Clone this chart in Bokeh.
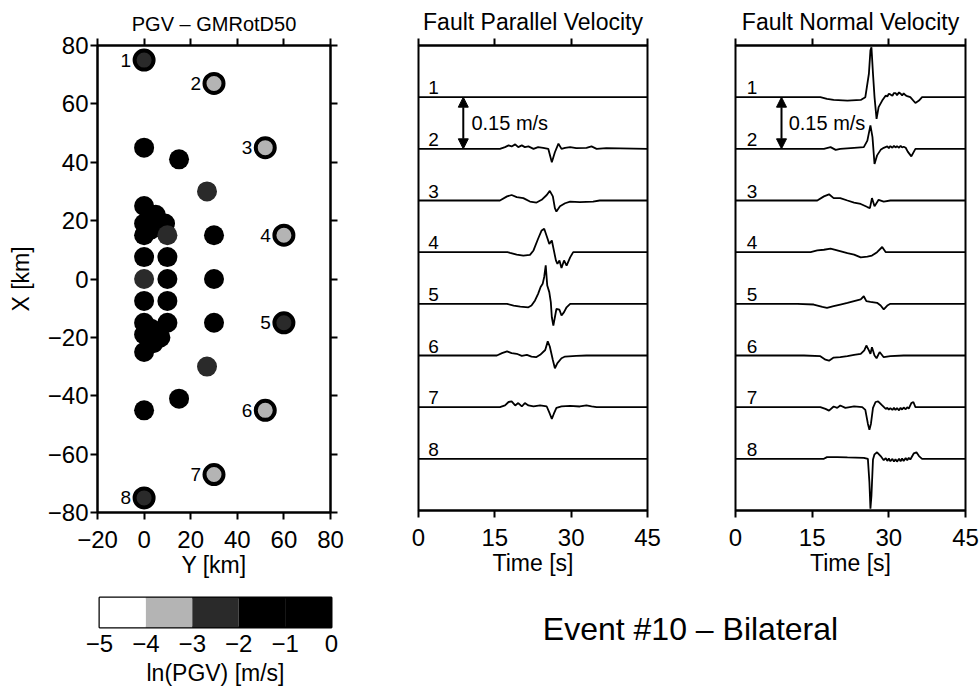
from bokeh.plotting import figure
from bokeh.models import (LinearAxis, FixedTicker, Range1d, Arrow, NormalHead,
                          ColumnDataSource, LinearColorMapper)
from bokeh.layouts import row, column
from bokeh.embed import file_html
from bokeh.resources import INLINE
from bokeh.core.properties import value
from bokeh.transform import transform

FONT = "Liberation Sans"

# ---------------- station map (Y [km], X [km], ln(PGV)) ----------------
station_num = ["1", "2", "3", "4", "5", "6", "7", "8"]
station_y = [0, 30, 52, 60, 60, 52, 30, 0]
station_x = [75, 67, 45, 15, -15, -45, -67, -75]
station_lnpgv = [-2.6, -3.4, -3.5, -3.5, -2.5, -3.4, -3.3, -2.6]

grid_y = [0, 15, 27, 30, 0, 5, 9, 0, 0, 3, 10, 0, 10, 30, 0, 10,
          0, 10, 0, 0, 3, 10, 30, 7, 0, 4, 27, 15, 0]
grid_x = [45, 41, 30, 15, 25, 22, 19, 19, 15, 17, 15, 7.5, 7.5, 0, 0, 0,
          -7.5, -7.5, -15, -19, -17, -15, -15, -20, -25, -22, -30, -41, -45]
grid_lnpgv = [-1.5, -1.4, -2.4, -1.6, -1.3, -1.2, -1.2, -1.0, -1.0, -1.1, -2.3, -1.1, -1.3,
              -1.7, -2.2, -1.4, -1.1, -1.3, -1.0, -1.0, -1.1, -1.5, -1.7, -1.3, -1.2, -1.2,
              -2.4, -1.4, -1.5]

map_xticks = [-20, 0, 20, 40, 60, 80]
map_xlabels = ["−20", "0", "20", "40", "60", "80"]
map_yticks = [-80, -60, -40, -20, 0, 20, 40, 60, 80]
map_ylabels = ["−80", "−60", "−40", "−20", "0", "20", "40", "60", "80"]

cbar_edges = [-5, -4, -3, -2, -1, 0]
cbar_palette = ["#ffffff", "#b4b4b4", "#2a2a2a", "#000000", "#000000"]
cbar_labels = ["−5", "−4", "−3", "−2", "−1", "0"]

# ---------------- waveforms: time [s], velocity [m/s] ----------------
time_ticks = [0, 15, 30, 45]
time_labels = ["0", "15", "30", "45"]
trace_spacing = 0.15
trace_names = ["1", "2", "3", "4", "5", "6", "7", "8"]

# Fault parallel
FP_T1 = []
FP_V1 = []
FP_T2 = [16.0, 17.0, 17.7, 18.3, 19.0, 19.6, 20.3, 20.9, 21.6, 22.6, 23.5, 24.5, 25.5,
         26.2, 26.8, 27.5, 28.1, 28.8, 29.8, 31.0, 33.0, 34.0, 35.0, 36.9]
FP_V2 = [0, .005, .010, .007, .013, .005, .010, .005, .007, 0, .005, .003, 0,
         -.039, -.010, .015, 0, .003, .005, .002, .003, .007, 0, .002]
FP_T3 = [16.0, 17.4, 18.3, 19.3, 20.6, 21.9, 23.2, 24.2, 25.2, 25.8, 26.4, 26.8, 27.1,
         27.8, 28.8, 29.8, 31.7, 34.3, 35.6]
FP_V3 = [0, .012, .016, .010, .007, -.003, -.006, .002, .016, .028, .012, -.022, -.032,
         -.017, -.008, -.003, -.005, -.003, 0]
FP_T4 = [17.5, 18.0, 19.3, 20.6, 21.9, 22.6, 23.5, 24.2, 24.7, 25.2, 25.7, 26.2, 26.6,
         27.0, 27.3, 27.7, 28.1, 28.6, 29.1, 29.8, 30.4]
FP_V4 = [0, -.002, -.007, -.010, -.008, .005, .039, .063, .068, .046, .024, .034, .005,
         -.024, -.034, -.024, -.046, -.024, -.039, -.015, 0]
FP_T5 = [17.4, 18.7, 20.0, 21.6, 22.2, 22.9, 23.5, 24.0, 24.4, 24.7, 25.0, 25.3, 25.7,
         26.0, 26.2, 26.5, 26.8, 27.1, 27.7, 28.1, 28.6, 29.1, 29.8]
FP_V5 = [0, -.005, -.008, -.010, -.005, .010, .029, .049, .058, .078, .112, .053, .034,
         .005, -.039, -.063, -.039, -.015, -.017, -.034, -.024, -.010, 0]
FP_T6 = [15.4, 16.4, 17.4, 18.3, 19.3, 20.3, 21.3, 22.2, 23.1, 23.9, 24.9, 25.4, 25.8,
         26.4, 26.8, 27.3, 28.1, 28.8, 31.0, 33.0]
FP_V6 = [0, .007, .012, .007, .005, -.001, .002, -.003, -.005, .002, .016, .041, .026,
         -.013, -.037, -.022, -.008, -.003, -.001, 0]
FP_T7 = [16.0, 17.0, 17.7, 18.3, 19.0, 19.6, 20.3, 20.9, 21.6, 22.6, 23.9, 25.2, 25.8,
         26.2, 26.6, 27.1, 28.1, 29.8, 31.7, 33.0, 34.0, 35.0]
FP_V7 = [0, .005, .015, .017, .005, .012, .002, .012, .005, .002, .005, .002, -.019,
         -.034, -.019, -.002, .002, .004, .002, .005, .002, 0]
FP_T8 = []
FP_V8 = []

# Fault normal
FN_T1 = [16.6, 17.9, 19.2, 21.9, 24.5, 25.4, 26.1, 26.4, 26.6, 26.9, 27.2, 27.6, 28.0,
         28.7, 29.4, 29.7, 30.0, 30.3, 30.7, 31.0, 31.3, 31.6, 32.0, 32.3, 32.6, 32.9,
         33.3, 33.6, 34.2, 35.2, 35.9, 36.5]
FN_V1 = [0, -.005, -.008, -.010, -.008, 0, .068, .136, .145, .068, 0, -.063, -.029,
         -.010, .005, .002, .010, .008, .004, .012, .012, .006, .014, .010, .005, .011,
         .005, .003, 0, -.017, -.010, 0]
FN_T2 = [17.3, 18.6, 19.6, 20.5, 23.2, 25.1, 25.8, 26.4, 26.8, 27.2, 27.7, 28.4, 29.0,
         29.7, 30.0, 30.3, 30.7, 31.0, 31.3, 31.6, 32.0, 32.3, 32.6, 32.9, 33.3, 33.7,
         34.4, 35.2]
FN_V2 = [0, .005, -.003, 0, .003, .005, .024, .068, .034, -.044, -.019, -.003, .003,
         .007, .002, .008, .003, .009, .004, .008, .003, .009, .004, .006, .003, -.008,
         -.022, 0]
FN_T3 = [16.0, 17.3, 18.3, 19.2, 20.5, 21.9, 23.2, 24.5, 25.8, 26.3, 26.7, 27.2, 28.0,
         29.0, 30.3]
FN_V3 = [0, .012, .018, .007, .007, 0, -.006, -.010, -.019, -.022, .007, -.017, .002,
         -.003, 0]
FN_T4 = [14.7, 16.0, 17.3, 18.6, 19.9, 21.9, 23.2, 24.5, 25.8, 26.7, 27.7, 28.7, 29.4,
         31.0]
FN_V4 = [0, .005, .007, .010, .005, -.003, -.007, -.015, -.013, -.010, 0, .015, 0, 0]
FN_T5 = [12.1, 15.3, 17.0, 17.9, 19.2, 20.5, 21.9, 23.2, 24.5, 25.1, 25.6, 26.4, 27.7,
         28.4, 29.0, 29.7, 30.3]
FN_V5 = [0, -.002, -.009, -.012, -.007, -.002, .003, .008, .013, .022, .008, .006, .003,
         -.005, -.016, -.005, 0]
FN_T6 = [13.4, 16.6, 17.6, 18.3, 19.2, 20.5, 21.9, 23.2, 24.5, 25.2, 25.6, 26.1, 26.4,
         26.7, 27.2, 27.6, 28.2, 29.0, 30.3, 32.9]
FN_V6 = [0, -.002, -.012, -.015, -.006, -.005, -.002, .002, .005, .015, .029, .015, .005,
         .024, 0, -.008, .010, -.005, -.002, 0]
FN_T7 = [16.6, 17.6, 18.3, 19.2, 19.9, 20.5, 21.5, 23.2, 24.8, 25.4, 25.9, 26.2, 26.5,
         26.9, 27.4, 27.9, 28.7, 29.4, 29.7, 30.0, 30.3, 30.7, 31.0, 31.3, 31.6, 32.0,
         32.3, 32.6, 32.9, 33.3, 33.6, 33.9, 34.4, 34.8, 35.2]
FN_V7 = [0, -.005, -.010, .002, -.002, .005, -.002, .002, 0, -.008, -.048, -.066, -.048,
         -.002, .015, .017, .005, -.005, -.002, -.007, -.003, -.008, -.002, -.008, -.003,
         -.009, -.002, -.007, -.001, -.006, 0, -.004, .012, .015, 0]
FN_T8 = [17.3, 17.9, 19.9, 21.9, 25.1, 25.9, 26.2, 26.4, 26.6, 26.9, 27.2, 27.7, 28.4,
         29.0, 29.4, 29.7, 30.0, 30.3, 30.7, 31.0, 31.3, 31.6, 32.0, 32.3, 32.6, 32.9,
         33.3, 33.6, 33.9, 34.2, 34.9, 35.4, 35.9, 36.5]
FN_V8 = [0, .005, .005, .004, .003, 0, -.068, -.145, -.107, -.002, .013, .019, .008,
         -.004, .002, -.006, .001, -.007, 0, -.008, -.001, -.008, 0, -.007, .001, -.006,
         .002, -.004, .003, -.002, .016, .019, .008, 0]

FP = [(FP_T1, FP_V1), (FP_T2, FP_V2), (FP_T3, FP_V3), (FP_T4, FP_V4),
      (FP_T5, FP_V5), (FP_T6, FP_V6), (FP_T7, FP_V7), (FP_T8, FP_V8)]
FN = [(FN_T1, FN_V1), (FN_T2, FN_V2), (FN_T3, FN_V3), (FN_T4, FN_V4),
      (FN_T5, FN_V5), (FN_T6, FN_V6), (FN_T7, FN_V7), (FN_T8, FN_V8)]

TICK_FS = "24px"
LABEL_FS = "23px"


def style_axis(ax, show_labels=True, label_standoff=3):
    ax.axis_line_width = 2
    ax.axis_line_color = "black"
    ax.major_tick_line_width = 2
    ax.major_tick_line_color = "black"
    ax.major_tick_out = 7
    ax.major_tick_in = 0
    ax.minor_tick_out = 0
    ax.minor_tick_in = 0
    ax.major_label_text_font = FONT
    ax.axis_label_text_font = FONT
    ax.axis_label_text_font_style = "normal"
    ax.axis_label_text_font_size = LABEL_FS
    ax.axis_label_text_color = "black"
    if show_labels:
        ax.major_label_text_color = "black"
        ax.major_label_text_font_size = TICK_FS
        ax.major_label_standoff = label_standoff
    else:
        ax.major_label_text_color = None
        ax.major_label_text_font_size = "1px"
        ax.major_label_standoff = 0


def add_axis(p, loc, ticks, labels=None, axis_label=None, label_standoff=3,
             axis_label_standoff=2):
    ax = LinearAxis(ticker=FixedTicker(ticks=ticks))
    style_axis(ax, show_labels=labels is not None, label_standoff=label_standoff)
    if labels is not None:
        ax.major_label_overrides = {t: l for t, l in zip(ticks, labels)}
    if axis_label:
        ax.axis_label = axis_label
        ax.axis_label_standoff = axis_label_standoff
    p.add_layout(ax, loc)
    return ax


def style_title(p, text, size="23px"):
    p.title.text = text
    p.title.align = "center"
    p.title.text_font = FONT
    p.title.text_font_size = size
    p.title.text_font_style = "normal"
    p.title.text_color = "black"
    p.title.standoff = 7
    p.title.offset = 0


# ---------------- map figure ----------------
pm = figure(frame_width=233, frame_height=467,
            x_range=Range1d(-20, 80), y_range=Range1d(-80, 80),
            x_axis_location=None, y_axis_location=None,
            min_border_left=97, min_border_right=30,
            min_border_top=45, min_border_bottom=68,
            output_backend="svg", toolbar_location=None)
style_title(pm, "PGV – GMRotD50", size="20px")
pm.grid.grid_line_color = None
pm.outline_line_color = "black"
pm.outline_line_width = 2
add_axis(pm, "below", map_xticks, map_xlabels, "Y [km]", label_standoff=11, axis_label_standoff=1)
add_axis(pm, "left", map_yticks, map_ylabels, "X [km]", label_standoff=2, axis_label_standoff=11)
add_axis(pm, "above", map_xticks)
add_axis(pm, "right", map_yticks)

mapper = LinearColorMapper(palette=cbar_palette, low=cbar_edges[0], high=cbar_edges[-1])
grid_src = ColumnDataSource(dict(y=grid_y, x=grid_x, v=grid_lnpgv))
pm.scatter("y", "x", source=grid_src, size=20, marker="circle",
           fill_color=transform("v", mapper), line_color=None)
st_src = ColumnDataSource(dict(y=station_y, x=station_x, v=station_lnpgv, n=station_num))
pm.scatter("y", "x", source=st_src, size=19, marker="circle",
           fill_color=transform("v", mapper), line_color="black", line_width=4)
pm.text("y", "x", text="n", source=st_src, x_offset=-13, text_align="right",
        text_baseline="middle", text_font=value(FONT), text_font_size="19px",
        text_color="black")


# ---------------- waveform figures ----------------
def wave_fig(title, traces, arrow_t, label_t, name_t, min_left, min_right, fw):
    p = figure(frame_width=fw, frame_height=465,
               x_range=Range1d(time_ticks[0], time_ticks[-1]),
               y_range=Range1d(-trace_spacing * (len(traces) + 1), 0),
               x_axis_location=None, y_axis_location=None,
               min_border_left=min_left, min_border_right=min_right,
               min_border_top=45, min_border_bottom=70,
               output_backend="svg", toolbar_location=None)
    style_title(p, title)
    p.grid.grid_line_color = None
    p.outline_line_color = "black"
    p.outline_line_width = 2
    add_axis(p, "below", time_ticks, time_labels, "Time [s]", label_standoff=11, axis_label_standoff=1)
    add_axis(p, "above", time_ticks)
    for k, (tt, vv) in enumerate(traces, start=1):
        base = -trace_spacing * k
        xs = [time_ticks[0]] + list(tt) + [time_ticks[-1]]
        ys = [base] + [base + v for v in vv] + [base]
        p.line(xs, ys, line_color="black", line_width=1.8)
    names_y = [-trace_spacing * k for k in range(1, len(traces) + 1)]
    p.text([name_t] * len(traces), names_y, text=trace_names, y_offset=-3,
           text_baseline="bottom", text_align="left", text_font=value(FONT),
           text_font_size="19px", text_color="black")
    p.add_layout(Arrow(start=NormalHead(size=10, fill_color="black", line_color="black"),
                       end=NormalHead(size=10, fill_color="black", line_color="black"),
                       x_start=arrow_t, y_start=-trace_spacing, x_end=arrow_t,
                       y_end=-2 * trace_spacing, line_width=2, line_color="black"))
    p.text([label_t], [-1.5 * trace_spacing], text=["%.2f m/s" % trace_spacing],
           text_baseline="middle", text_align="left", text_font=value(FONT),
           text_font_size="20px", text_color="black")
    return p


pfp = wave_fig("Fault Parallel Velocity", FP, 8.8, 10.4, 1.9, 58, 35, 229)
pfn = wave_fig("Fault Normal Velocity", FN, 9.0, 10.4, 2.2, 53, 15, 230)

# ---------------- colour bar ----------------
pc = figure(frame_width=232, frame_height=30,
            x_range=Range1d(cbar_edges[0], cbar_edges[-1]), y_range=Range1d(0, 1),
            x_axis_location=None, y_axis_location=None,
            min_border_left=99, min_border_right=69, min_border_top=17, min_border_bottom=63,
            output_backend="svg", toolbar_location=None)
pc.grid.grid_line_color = None
pc.outline_line_color = "black"
pc.outline_line_width = 2
pc.quad(left=cbar_edges[:-1], right=cbar_edges[1:], bottom=0, top=1,
        fill_color=cbar_palette, line_color=None)
cax = add_axis(pc, "below", cbar_edges, cbar_labels, "ln(PGV) [m/s]", label_standoff=7,
               axis_label_standoff=5)
cax.axis_line_color = None
cax.major_tick_out = 0

# ---------------- event label ----------------
pe = figure(frame_width=580, frame_height=85, title=None,
            x_range=Range1d(0, 1), y_range=Range1d(0, 1),
            x_axis_location=None, y_axis_location=None,
            min_border_left=0, min_border_right=0, min_border_top=0, min_border_bottom=0,
            output_backend="svg", toolbar_location=None)
pe.grid.grid_line_color = None
pe.outline_line_color = None
pe.text([0.5], [0.635], text=["Event #10 – Bilateral"], text_align="center",
        text_baseline="middle", text_font=value(FONT), text_font_size="32px",
        text_color="black")

layout = column(row(pm, pfp, pfn, spacing=0), row(pc, pe, spacing=0), spacing=0)
open("out.html", "w").write(file_html(layout, INLINE))
